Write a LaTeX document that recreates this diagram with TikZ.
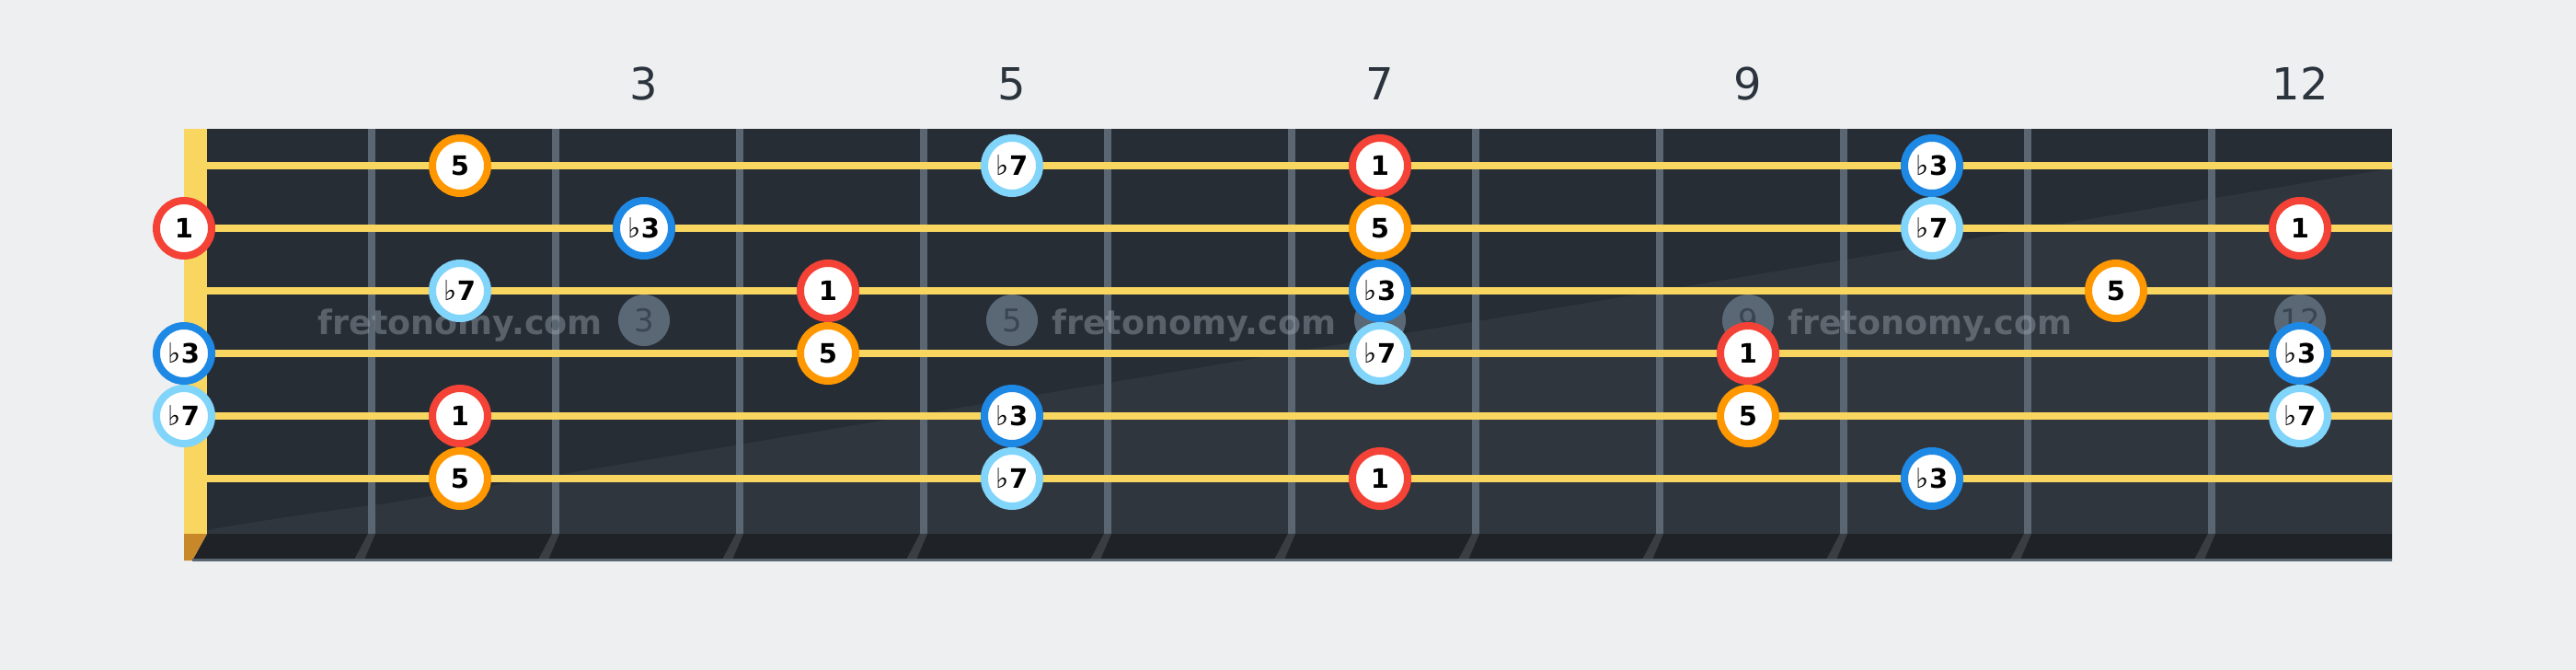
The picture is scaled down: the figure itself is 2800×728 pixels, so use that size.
\documentclass[tikz,border=0pt]{standalone}
\usepackage{fontspec}
\setmainfont{DejaVu Sans}
\definecolor{bg}{HTML}{EEEFF1}
\definecolor{board}{HTML}{272D35}
\definecolor{boardlight}{HTML}{30363E}
\definecolor{fretc}{HTML}{5A6672}
\definecolor{stringc}{HTML}{F8D660}
\definecolor{nutc}{HTML}{F8D660}
\definecolor{nutbot}{HTML}{C8882A}
\definecolor{band}{HTML}{1F2327}
\definecolor{bandfret}{HTML}{3A3E43}
\definecolor{labelc}{HTML}{2B333D}
\definecolor{markc}{HTML}{5A6775}
\definecolor{markt}{HTML}{3A4552}
\definecolor{wmark}{HTML}{A0AAB4}
\definecolor{rootc}{HTML}{F44336}
\definecolor{fifthc}{HTML}{FF9800}
\definecolor{thirdc}{HTML}{1E88E5}
\definecolor{seventhc}{HTML}{81D4FA}
\newcommand\flatmk{{\fontsize{30}{30}\mdseries ♭}}
\begin{document}
\begin{tikzpicture}[x=1pt,y=-1pt,
  note/.style={circle, draw=#1, line width=8pt, fill=white, minimum size=60pt,
    inner sep=0pt, text height=21pt, text depth=0pt,
    font=\fontsize{29}{29}\selectfont\bfseries, text=black},
  fretlabel/.style={anchor=base, text=labelc, font=\fontsize{48}{48}\selectfont},
  marker/.style={circle, fill=markc, minimum size=56pt, inner sep=0pt,
    text height=24.5pt, text depth=0pt, text=markt, font=\fontsize{34}{34}\selectfont},
  watermark/.style={text=wmark, text opacity=0.42, inner sep=0pt,
    font=\fontsize{36.5}{36.5}\selectfont\bfseries},
  stringline/.style={draw=stringc, line width=8pt},
  fretwire/.style={fill=fretc}
]
\useasboundingbox (0,0) rectangle (2800,728);
\fill[bg] (0,0) rectangle (2800,728);
% fretboard
\fill[board] (225,140) rectangle (2600,580);
\fill[boardlight] (225,580) -- (225,576) .. controls (300,563) and (350,556) .. (420,547)
  -- (2600,183) -- (2600,580) -- cycle;
% fret markers
\node[marker] (m3) at (700,348) {3};
\node[marker] (m5) at (1100,348) {5};
\node[marker] (m7) at (1500,348) {7};
\node[marker] (m9) at (1900,348) {9};
\node[marker] (m12) at (2500,348) {12};
% fret wires
\foreach \j in {0,...,10}{
  \fill[fretwire] ({400+200*\j},140) rectangle ({408+200*\j},580);
}
% watermarks
\node[watermark, anchor=base east] (w1) at (655,363) {fretonomy.com};
\node[watermark, anchor=base west] (w2) at (1143,363) {fretonomy.com};
\node[watermark, anchor=base west] (w3) at (1943,363) {fretonomy.com};
% strings
\foreach \i in {0,...,5}{
  \draw[stringline] (225,{180+68*\i}) -- (2600,{180+68*\i});
}
% nut
\fill[nutc] (200,140) rectangle (225,580);
% bottom band
\fill[band] (225,580) -- (2600,580) -- (2600,609) -- (209,609) -- cycle;
\fill[nutbot] (200,580) -- (225,580) -- (209,609) -- (200,609) -- cycle;
\foreach \j in {0,...,10}{
  \fill[bandfret] ({400+200*\j},580) -- ({408+200*\j},580) -- ({396+200*\j},608) -- ({385+200*\j},608) -- cycle;
}
\fill[fretc] (209,607) rectangle (2600,609.5);
% fret labels
\node[fretlabel] (l3) at (700,108) {3};
\node[fretlabel] (l5) at (1100,108) {5};
\node[fretlabel] (l7) at (1500,108) {7};
\node[fretlabel] (l9) at (1900,108) {9};
\node[fretlabel] (l12) at (2500,108) {12};
% notes: x / string / label / colour
\foreach \x/\s/\t/\c [count=\n] in {
  500/0/5/fifthc, 1100/0/\flatmk7/seventhc, 1500/0/1/rootc, 2100/0/\flatmk3/thirdc,
  200/1/1/rootc, 700/1/\flatmk3/thirdc, 1500/1/5/fifthc, 2100/1/\flatmk7/seventhc, 2500/1/1/rootc,
  500/2/\flatmk7/seventhc, 900/2/1/rootc, 1500/2/\flatmk3/thirdc, 2300/2/5/fifthc,
  200/3/\flatmk3/thirdc, 900/3/5/fifthc, 1500/3/\flatmk7/seventhc, 1900/3/1/rootc, 2500/3/\flatmk3/thirdc,
  200/4/\flatmk7/seventhc, 500/4/1/rootc, 1100/4/\flatmk3/thirdc, 1900/4/5/fifthc, 2500/4/\flatmk7/seventhc,
  500/5/5/fifthc, 1100/5/\flatmk7/seventhc, 1500/5/1/rootc, 2100/5/\flatmk3/thirdc}{
  \node[note=\c] (note\n) at (\x,{180+68*\s}) {\t};
}
\end{tikzpicture}
\end{document}
